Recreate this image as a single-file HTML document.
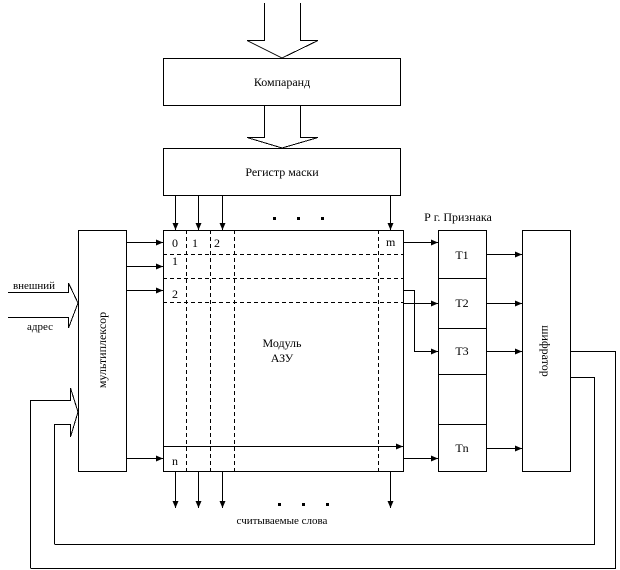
<!DOCTYPE html>
<html><head><meta charset="utf-8"><style>
html,body{margin:0;padding:0;background:#fff;}
svg{display:block;}
text{font-family:"Liberation Serif","DejaVu Serif",serif;font-size:12px;fill:#000;}
</style></head><body>
<svg width="620" height="570" viewBox="0 0 620 570" xmlns="http://www.w3.org/2000/svg">
<defs>
<marker id="a" markerWidth="8" markerHeight="8" refX="7" refY="4" orient="auto" markerUnits="userSpaceOnUse">
<path d="M0,1 L7,4 L0,7 Z" fill="#000"/></marker>
</defs>
<g stroke="#000" stroke-width="1" fill="none" shape-rendering="crispEdges">
<!-- top hollow arrow -->
<polyline points="264.5,3 264.5,40.5 247,40.5 282,58 318,40.5 300.5,40.5 300.5,3"/>
<rect x="163.5" y="58.5" width="237" height="47" fill="#fff"/>
<polyline points="264.5,105 264.5,137.5 247,137.5 282,148 318,137.5 300.5,137.5 300.5,105"/>
<rect x="163.5" y="148.5" width="237" height="47" fill="#fff"/>
<!-- register to module arrows -->
<line x1="175.5" y1="196" x2="175.5" y2="230" marker-end="url(#a)"/>
<line x1="198.5" y1="196" x2="198.5" y2="230" marker-end="url(#a)"/>
<line x1="222.5" y1="196" x2="222.5" y2="230" marker-end="url(#a)"/>
<line x1="390.5" y1="196" x2="390.5" y2="230" marker-end="url(#a)"/>
<!-- module -->
<rect x="163.5" y="230.5" width="240" height="241"/>
<g stroke-dasharray="4,3">
<line x1="163" y1="254.5" x2="403" y2="254.5"/>
<line x1="163" y1="278.5" x2="403" y2="278.5"/>
<line x1="163" y1="302.5" x2="403" y2="302.5"/>
<line x1="186.5" y1="230" x2="186.5" y2="471"/>
<line x1="210.5" y1="230" x2="210.5" y2="471"/>
<line x1="234.5" y1="230" x2="234.5" y2="471"/>
<line x1="378.5" y1="230" x2="378.5" y2="471"/>
</g>
<line x1="163" y1="446.5" x2="403" y2="446.5" marker-end="url(#a)"/>
<!-- multiplexer -->
<rect x="78.5" y="230.5" width="48" height="241"/>
<line x1="126" y1="242.5" x2="163" y2="242.5" marker-end="url(#a)"/>
<line x1="126" y1="266.5" x2="163" y2="266.5" marker-end="url(#a)"/>
<line x1="126" y1="290.5" x2="163" y2="290.5" marker-end="url(#a)"/>
<line x1="126" y1="458.5" x2="163" y2="458.5" marker-end="url(#a)"/>
<!-- left inputs -->
<polyline points="8,292.5 68.5,292.5 68.5,283 78,303 68.5,328 68.5,317.5 8,317.5"/>
<polyline points="30.5,568 30.5,400.5 70.5,400.5 70.5,388 78,412 70.5,437 70.5,424.5 54.5,424.5 54.5,544"/>
<!-- feedback -->
<polyline points="30.5,568.5 615.5,568.5 615.5,351.5 570,351.5"/>
<polyline points="54.5,544.5 594.5,544.5 594.5,377.5 570,377.5"/>
<!-- T register -->
<rect x="438.5" y="230.5" width="48" height="241"/>
<line x1="438" y1="278.5" x2="486" y2="278.5"/>
<line x1="438" y1="328.5" x2="486" y2="328.5"/>
<line x1="438" y1="374.5" x2="486" y2="374.5"/>
<line x1="438" y1="424.5" x2="486" y2="424.5"/>
<line x1="403" y1="242.5" x2="438" y2="242.5" marker-end="url(#a)"/>
<line x1="403" y1="303.5" x2="438" y2="303.5" marker-end="url(#a)"/>
<polyline points="403,290.5 414.5,290.5 414.5,351.5 438,351.5" marker-end="url(#a)"/>
<line x1="403" y1="458.5" x2="438" y2="458.5" marker-end="url(#a)"/>
<!-- shifrator -->
<rect x="522.5" y="230.5" width="48" height="241"/>
<line x1="486" y1="254.5" x2="522" y2="254.5" marker-end="url(#a)"/>
<line x1="486" y1="303.5" x2="522" y2="303.5" marker-end="url(#a)"/>
<line x1="486" y1="351.5" x2="522" y2="351.5" marker-end="url(#a)"/>
<line x1="486" y1="448.5" x2="522" y2="448.5" marker-end="url(#a)"/>
<!-- bottom outputs -->
<line x1="175.5" y1="471" x2="175.5" y2="508" marker-end="url(#a)"/>
<line x1="198.5" y1="471" x2="198.5" y2="508" marker-end="url(#a)"/>
<line x1="222.5" y1="471" x2="222.5" y2="508" marker-end="url(#a)"/>
<line x1="390.5" y1="471" x2="390.5" y2="508" marker-end="url(#a)"/>
</g>
<g fill="#000">
<rect x="273" y="217" width="3" height="3"/><rect x="297" y="217" width="3" height="3"/><rect x="321" y="217" width="3" height="3"/>
<rect x="278" y="503" width="3" height="3"/><rect x="302" y="503" width="3" height="3"/><rect x="326" y="503" width="3" height="3"/>
</g>
<text x="282" y="86" text-anchor="middle">Компаранд</text>
<text x="282" y="176" text-anchor="middle">Регистр маски</text>
<text x="458" y="221" text-anchor="middle">Р г. Признака</text>
<text x="172" y="247">0</text><text x="192" y="247">1</text><text x="214" y="247">2</text>
<text x="172" y="265">1</text><text x="172" y="298">2</text><text x="172" y="465">n</text>
<text x="386" y="246">m</text>
<text x="282" y="347" text-anchor="middle">Модуль</text>
<text x="282" y="362" text-anchor="middle">АЗУ</text>
<text x="462" y="259" text-anchor="middle">T1</text>
<text x="462" y="307" text-anchor="middle">T2</text>
<text x="462" y="355" text-anchor="middle">T3</text>
<text x="462" y="452" text-anchor="middle">Tn</text>
<text x="34" y="289" text-anchor="middle" style="font-size:11px">внешний</text>
<text x="40" y="330" text-anchor="middle" style="font-size:11px">адрес</text>
<text x="282" y="524" text-anchor="middle" style="font-size:11px">считываемые слова</text>
<text transform="translate(106,350) rotate(-90)" text-anchor="middle">мультиплексор</text>
<text transform="translate(542,351) rotate(90)" text-anchor="middle">шифратор</text>
</svg>
</body></html>
